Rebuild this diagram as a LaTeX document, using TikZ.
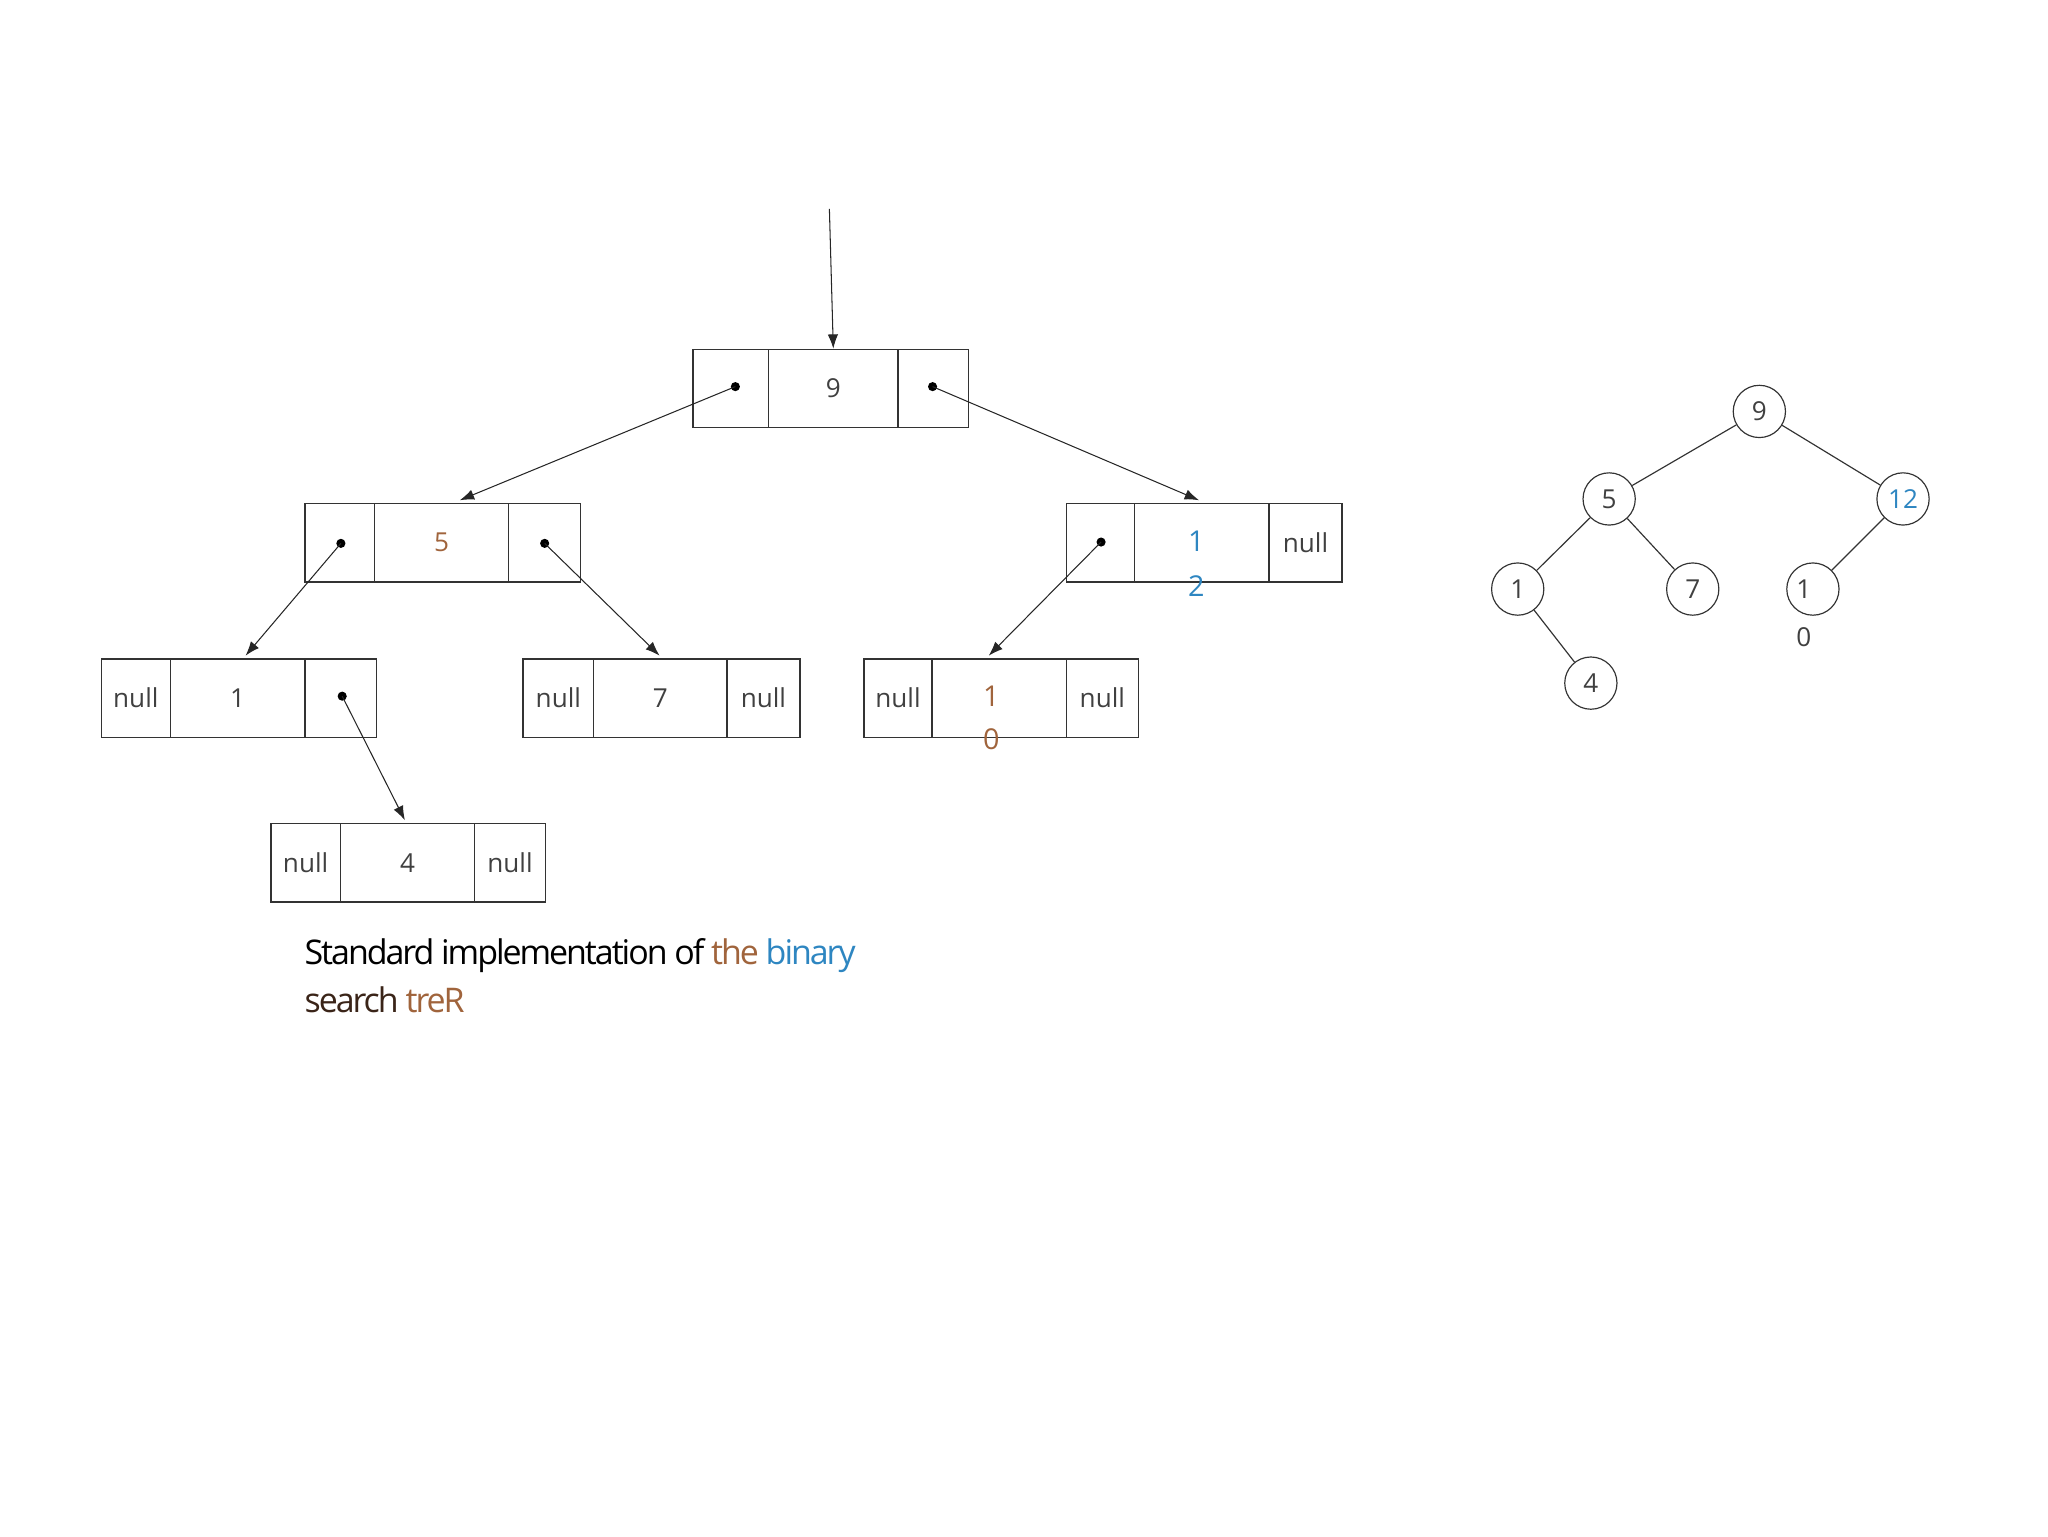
\documentclass[tikz,border=0pt]{standalone}
\usepackage{fontspec}
\setmainfont{Open Sans}
\usetikzlibrary{arrows.meta}
\definecolor{txt}{HTML}{404040}
\definecolor{bl}{HTML}{2E86C1}
\definecolor{br}{HTML}{A0643C}
\definecolor{dk}{HTML}{3A2418}
\tikzset{
 cell/.style={draw=black!80, line width=1pt, minimum height=60pt, inner sep=0pt, anchor=north west, font=\fontsize{20}{22}\selectfont, text=txt},
 ptr/.style={-{Latex[length=11pt,width=8pt]}, line width=0.8pt, black!85},
 dot/.style={circle, fill=black, inner sep=0pt, minimum size=7pt},
 tn/.style={circle, draw=black!80, line width=0.9pt, minimum size=40pt, inner sep=0pt, font=\fontsize{20}{22}\selectfont, text=txt},
 te/.style={line width=0.9pt, black!80}
}
\begin{document}
\begin{tikzpicture}[x=1pt,y=-1pt]
\useasboundingbox (0,0) rectangle (1568,1176);
% root
\node[cell,minimum width=58pt] (r1) at (530,267) {};
\node[cell,minimum width=99pt] (r2) at (588,267) {9};
\node[cell,minimum width=54pt] (r3) at (687,267) {};
% 5
\node[cell,minimum width=53pt] (a1) at (233,385) {};
\node[cell,minimum width=103pt] (a2) at (286,385) {\textcolor{br}{5}};
\node[cell,minimum width=55pt] (a3) at (389,385) {};
% 12
\node[cell,minimum width=52pt] (b1) at (816,385) {};
\node[cell,minimum width=103pt] (b2) at (868,385) {};
\node[cell,minimum width=56pt] (b3) at (971,385) {null};
\node[font=\fontsize{22}{24}\selectfont, text=bl] (b2t) at (916,414) {1};
\node[font=\fontsize{22}{24}\selectfont, text=bl] (b2u) at (916,449) {2};
% 1
\node[cell,minimum width=53pt] (c1) at (77,504) {null};
\node[cell,minimum width=103pt] (c2) at (130,504) {1};
\node[cell,minimum width=55pt] (c3) at (233,504) {};
% 7
\node[cell,minimum width=54pt] (d1) at (400,504) {null};
\node[cell,minimum width=102pt] (d2) at (454,504) {7};
\node[cell,minimum width=56pt] (d3) at (556,504) {null};
% 10
\node[cell,minimum width=52pt] (e1) at (661,504) {null};
\node[cell,minimum width=103pt] (e2) at (713,504) {};
\node[cell,minimum width=55pt] (e3) at (816,504) {null};
\node[font=\fontsize{22}{24}\selectfont, text=br] (e2t) at (759,533) {1};
\node[font=\fontsize{22}{24}\selectfont, text=br] (e2u) at (759,566) {0};
% 4
\node[cell,minimum width=53pt] (f1) at (207,630) {null};
\node[cell,minimum width=103pt] (f2) at (260,630) {4};
\node[cell,minimum width=54pt] (f3) at (363,630) {null};
% dots
\node[dot] (p1) at (563,296) {};
\node[dot] (p2) at (714,296) {};
\node[dot] (p3) at (261,416) {};
\node[dot] (p4) at (417,416) {};
\node[dot] (p5) at (843,415) {};
\node[dot] (p6) at (262,533) {};
\coordinate (top) at (635,160);
\coordinate (t1) at (352,383);
\coordinate (t2) at (918,383);
\coordinate (t3) at (188,502);
\coordinate (t4) at (505,502);
\coordinate (t5) at (757,502);
\coordinate (t6) at (310,628);
\draw[ptr] (top) -- (r2.north);
\draw[ptr] (p1.center) -- (t1);
\draw[ptr] (p2.center) -- (t2);
\draw[ptr] (p3.center) -- (t3);
\draw[ptr] (p4.center) -- (t4);
\draw[ptr] (p5.center) -- (t5);
\draw[ptr] (p6.center) -- (t6);
% right tree
\node[tn] (n9) at (1347,315) {9};
\node[tn] (n5) at (1232,382) {5};
\node[tn,text=bl] (n12) at (1457,382) {12};
\node[tn] (n1) at (1162,451) {1};
\node[tn] (n7) at (1296,451) {7};
\node[tn] (n10) at (1388,451) {\hspace*{-14pt}1};
\node[font=\fontsize{20}{22}\selectfont, text=txt] (n10b) at (1381,488) {0};
\node[tn] (n4) at (1218,523) {4};
\draw[te] (n9) -- (n5);
\draw[te] (n9) -- (n12);
\draw[te] (n5) -- (n1);
\draw[te] (n5) -- (n7);
\draw[te] (n12) -- (n10);
\draw[te] (n1) -- (n4);
% caption
\node[anchor=north west, align=left, inner sep=0pt, font=\fontsize{26}{37}\selectfont\addfontfeature{LetterSpace=-6}] (cap) at (233,718)
 {Standard implementation of \textcolor{br}{the} \textcolor{bl}{binary}\\\textcolor{dk}{search} \textcolor{br}{treR}};
\end{tikzpicture}
\end{document}
